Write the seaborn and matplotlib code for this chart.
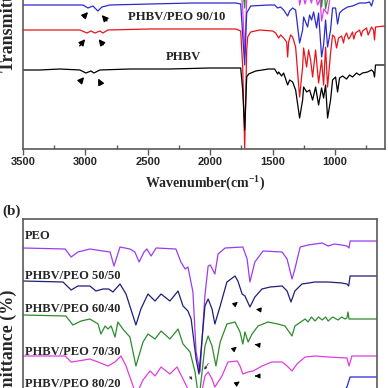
import matplotlib
matplotlib.use("Agg")
import matplotlib.pyplot as plt
from matplotlib.ticker import MultipleLocator
import seaborn as sns

# ---------- panel (a): full range spectra (wavenumber, transmittance a.u.) ----------
wn_phbv = [3500, 3364, 3204, 3044, 2996, 2956, 2932, 2884, 2644, 2324, 2004, 1796, 1756, 1740,
           1724, 1708, 1692, 1636, 1532, 1484, 1460, 1452, 1428, 1412, 1380, 1364, 1340, 1316,
           1284, 1260, 1252, 1228, 1204, 1180, 1156, 1132, 1108, 1092, 1076, 1060, 1036, 1020,
           996, 980, 964, 940, 908, 884, 860, 828, 804, 780, 740, 708, 692, 684, 676, 604]
t_phbv = [79, 79, 80, 79, 76, 78, 76, 79, 80, 80, 81, 81, 81, 59,
          19, 72, 75, 78, 80, 80, 75, 77, 73, 76, 64, 69, 67, 59,
          31, 49, 62, 57, 59, 49, 62, 44, 61, 51, 64, 31, 49, 69,
          72, 57, 71, 73, 70, 74, 72, 76, 74, 76, 77, 79, 77, 72, 84, 84]

wn_9010 = [3500, 3284, 3044, 2988, 2956, 2924, 2884, 2860, 2820, 2484, 2084, 1796, 1756, 1740,
           1724, 1708, 1700, 1676, 1604, 1500, 1476, 1452, 1436, 1412, 1388, 1380, 1372, 1356,
           1340, 1316, 1284, 1260, 1252, 1228, 1212, 1196, 1180, 1156, 1132, 1108, 1092, 1076,
           1060, 1036, 1020, 1004, 988, 972, 948, 932, 924, 908, 892, 884, 860, 850, 836, 804,
           790, 780, 748, 735, 724, 708, 692, 684, 676, 604]
t_9010 = [119, 119, 119, 116, 118, 116, 118, 116, 119, 120, 120, 120, 118, 82,
          1, 99, 112, 117, 119, 118, 116, 111, 114, 111, 107, 92, 107, 114,
          112, 102, 52, 82, 101, 82, 99, 89, 72, 99, 66, 89, 64, 102,
          62, 96, 114, 112, 101, 111, 113, 106, 112, 116, 110, 111, 117, 110, 116, 119,
          113, 118, 121, 114, 117, 122, 119, 109, 122, 123]

wn_8020 = [3500, 3204, 3020, 2980, 2940, 2900, 2868, 2804, 2484, 2140, 1796, 1756, 1740, 1724,
           1708, 1676, 1532, 1484, 1460, 1436, 1412, 1380, 1364, 1340, 1316, 1284, 1260, 1252,
           1220, 1204, 1188, 1172, 1148, 1132, 1108, 1092, 1076, 1060, 1036, 1020, 996, 980,
           964, 940, 900, 860, 804, 756, 724, 708, 692, 604]
t_8020 = [144, 144, 144, 141, 143, 138, 142, 144, 145, 146, 146, 145, 114, 84,
          136, 143, 144, 144, 141, 142, 139, 133, 138, 141, 139, 106, 119, 132,
          122, 134, 129, 137, 121, 136, 92, 104, 129, 102, 119, 141, 141, 125,
          136, 139, 142, 143, 146, 146, 147, 143, 150, 150]

wn_7030a = [3500, 1760, 1740, 1724, 1708, 1680, 1300, 1284, 1262, 1240, 1215, 1190, 1165,
            1140, 1120, 1108, 1090, 1060, 1030, 1000, 604]
t_7030a = [170, 170, 140, 95, 150, 170, 168, 144, 156, 145, 158, 146, 158,
           144, 150, 128, 140, 135, 160, 168, 170]

wn_6040a = [3500, 1760, 1740, 1724, 1708, 1680, 1300, 1284, 1262, 1130, 1108, 1090, 1076,
            1060, 1040, 1000, 604]
t_6040a = [190, 190, 160, 141, 180, 190, 188, 160, 178, 176, 142, 165, 140,
           150, 176, 186, 190]

# ---------- panel (b): 1600-600 cm-1 ----------
wn_peo = [1600, 1481, 1464, 1445, 1411, 1374, 1354, 1343, 1334, 1326, 1298, 1284, 1272, 1258,
          1250, 1238, 1224, 1168, 1154, 1142, 1134, 1120, 1111, 1100, 1086, 1077, 1071, 1058,
          1049, 1029, 979, 967, 959, 945, 922, 868, 854, 840, 832, 817, 795, 775, 755, 738,
          720, 700, 685, 679, 676, 600]
t_peo = [237, 236, 228, 233, 236, 234, 233, 219, 229, 238, 236, 233, 223, 233,
         236, 229, 237, 236, 223, 216, 218, 193, 133, 113, 190, 219, 220, 211,
         231, 237, 238, 226, 203, 223, 234, 233, 226, 206, 216, 238, 240, 241, 242, 239,
         241, 240, 239, 237, 244, 244]

wn_5050 = [1600, 1487, 1464, 1445, 1411, 1394, 1374, 1358, 1346, 1326, 1309, 1281, 1267, 1247,
           1227, 1210, 1185, 1162, 1148, 1134, 1125, 1111, 1103, 1086, 1077, 1066, 1058, 1043,
           1024, 1001, 993, 981, 973, 959, 945, 925, 902, 868, 854, 843, 832, 812, 775, 738,
           700, 685, 680, 676, 600]
t_5050 = [204, 203, 195, 199, 199, 194, 196, 196, 193, 201, 191, 160, 176, 191,
          184, 191, 184, 194, 179, 174, 166, 126, 111, 179, 186, 176, 161, 179,
          203, 209, 204, 191, 189, 178, 188, 196, 198, 199, 194, 183, 194, 201, 203, 203,
          202, 201, 199, 209, 209]

wn_6040 = [1600, 1479, 1459, 1436, 1411, 1388, 1380, 1368, 1360, 1351, 1340, 1332, 1318, 1298,
           1281, 1261, 1247, 1227, 1210, 1185, 1162, 1148, 1128, 1114, 1103, 1086, 1077, 1066,
           1055, 1043, 1024, 1001, 987, 979, 973, 964, 953, 936, 908, 880, 860, 840, 832, 803,
           795, 785, 775, 765, 755, 745, 738, 725, 710, 700, 690, 685, 682, 679, 600]
t_6040 = [170, 169, 160, 164, 166, 161, 151, 159, 156, 159, 148, 163, 156, 148,
          119, 143, 151, 146, 154, 146, 156, 141, 133, 113, 85, 139, 149, 139,
          119, 143, 161, 163, 153, 141, 153, 143, 151, 159, 163, 161, 159, 149, 159, 166,
          163, 168, 164, 168, 165, 168, 164, 168, 165, 168, 166, 167, 173, 166, 166]

wn_7030 = [1600, 1481, 1464, 1445, 1411, 1388, 1360, 1340, 1323, 1309, 1289, 1281, 1261, 1241,
           1227, 1210, 1185, 1165, 1148, 1134, 1114, 1086, 1077, 1066, 1058, 1038, 1021, 995,
           987, 979, 964, 950, 925, 897, 868, 854, 840, 826, 803, 775, 738, 685, 679, 671, 600]
t_7030 = [129, 129, 123, 124, 126, 123, 119, 123, 129, 119, 99, 90, 105, 114,
          109, 118, 111, 118, 106, 96, 60, 109, 113, 106, 98, 109, 123, 124,
          119, 111, 113, 114, 119, 123, 123, 119, 114, 121, 128, 129, 128, 127, 119, 129, 129]

wn_8020b = [1600, 1300, 1110, 1000, 700, 685, 676, 600]
t_8020b = [90, 86, 40, 85, 92, 98, 108, 108]

# ---------- arrows: (tail wn, tail T, head wn, head T) ----------
arrows_a = [(3030, 130, 2964, 139), (2812, 126, 2884, 136),
            (3060, 101, 2988, 112), (2844, 102, 2908, 112),
            (3044, 67, 2996, 74), (2876, 65, 2908, 73)]
arrows_b = [(1007, 179, 987, 185), (925, 175, 950, 176),
            (1007, 135, 990, 140), (936, 140, 953, 141),
            (998, 101, 981, 105), (934, 109, 953, 109)]
thin_arrows_b = [(1072, 124, 1092, 113), (1134, 111, 1117, 103)]

sns.set_theme(style="white")
plt.rcParams["font.family"] = ["Liberation Serif", "DejaVu Serif"]
plt.rcParams["font.weight"] = "bold"
plt.rcParams["mathtext.fontset"] = "custom"
plt.rcParams["mathtext.rm"] = "Liberation Serif:bold"
plt.rcParams["mathtext.bf"] = "Liberation Serif:bold"

fig = plt.figure(figsize=(3.88, 3.88), dpi=100)
W = 388.0
axa = fig.add_axes([23 / W, (388 - 149) / W, 362 / W, 280 / W])
axb = fig.add_axes([23 / W, (388 - 499) / W, 354 / W, 280 / W])

lw = 0.9
# sort=False: the spectra are already listed in wavenumber order
curves_a = [(wn_6040a, t_6040a, "#2e8b2e"), (wn_7030a, t_7030a, "#e03ce0"),
            (wn_8020, t_8020, "#2a2ad0"), (wn_9010, t_9010, "#e8141a"),
            (wn_phbv, t_phbv, "black")]
for x, y, c in curves_a:
    sns.lineplot(x=x, y=y, ax=axa, color=c, lw=lw, estimator=None, sort=False)

curves_b = [(wn_peo, t_peo, "#9a3cf0"), (wn_5050, t_5050, "#1e1e78"),
            (wn_6040, t_6040, "#2e8b2e"), (wn_7030, t_7030, "#e03ce0"),
            (wn_8020b, t_8020b, "#2a2ad0")]
for x, y, c in curves_b:
    sns.lineplot(x=x, y=y, ax=axb, color=c, lw=lw, estimator=None, sort=False)

for tx, ty, hx, hy in arrows_a:
    axa.annotate("", xy=(hx, hy), xytext=(tx, ty),
                 arrowprops=dict(arrowstyle="-|>", color="black", lw=1.0, mutation_scale=9))
for tx, ty, hx, hy in arrows_b:
    axb.annotate("", xy=(hx, hy), xytext=(tx, ty),
                 arrowprops=dict(arrowstyle="-|>", color="black", lw=0.8, mutation_scale=7))
for tx, ty, hx, hy in thin_arrows_b:
    axb.annotate("", xy=(hx, hy), xytext=(tx, ty),
                 arrowprops=dict(arrowstyle="-|>", color="#333333", lw=0.5, mutation_scale=4))

axa.set_xlim(3500, 600)
axa.set_ylim(0, 280)
axb.set_xlim(1600, 600)
axb.set_ylim(-14, 266)

spine_c = "#5a5a5a"
for ax in (axa, axb):
    ax.set_yticks([])
    ax.set_xlabel("")
    ax.set_ylabel("")
    for s in ax.spines.values():
        s.set_color(spine_c)
        s.set_linewidth(1.2)

axa.set_xticks([3500, 3000, 2500, 2000, 1500, 1000])
axa.xaxis.set_minor_locator(MultipleLocator(250))
axa.tick_params(axis="x", which="major", direction="out", length=4, width=1,
                color=spine_c, pad=2, labelsize=8, bottom=True)
axa.tick_params(axis="x", which="minor", direction="in", length=3, width=1,
                color=spine_c, bottom=True)
for lab in axa.get_xticklabels():
    lab.set_family("Liberation Sans")
    lab.set_weight("bold")
axb.set_xticks([])

axa.text(2660, 132, "PHBV/PEO 90/10", fontsize=9.2, fontweight="bold", va="center", ha="left")
axa.text(2356, 92, "PHBV", fontsize=9.2, fontweight="bold", va="center", ha="left")

labels_b = [("PEO", 249), ("PHBV/PEO 50/50", 209), ("PHBV/PEO 60/40", 176),
            ("PHBV/PEO 70/30", 133), ("PHBV/PEO 80/20", 101)]
for txt, yy in labels_b:
    axb.text(1594, yy, txt, fontsize=9, fontweight="bold", va="center", ha="left")

fig.text(205 / W, 1 - 183 / W, r"Wavenumber(cm$^{-1}$)", fontsize=10, fontweight="bold",
         ha="center", va="center")
fig.text(8 / W, 1 - (-1) / W, "Transmittance (%)", fontsize=13, fontweight="bold",
         rotation=90, ha="center", va="center")
fig.text(8 / W, 1 - 363 / W, "Transmittance (%)", fontsize=13, fontweight="bold",
         rotation=90, ha="center", va="center")
fig.text(2 / W, 1 - 211 / W, "(b)", fontsize=11, fontweight="bold", ha="left", va="center")

fig.savefig("out.png", dpi=100)
